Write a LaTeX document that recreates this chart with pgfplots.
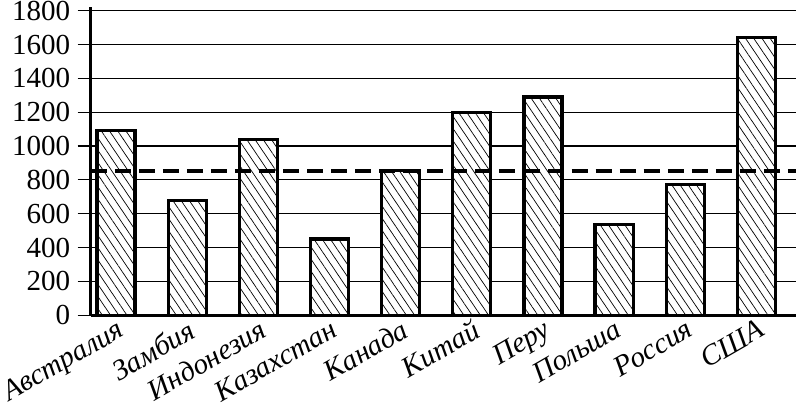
\documentclass[border=0pt]{standalone}
\usepackage{fontspec}
\setmainfont{Liberation Serif}
\usepackage{pgfplots}
\pgfplotsset{compat=1.18}
\usetikzlibrary{patterns.meta}
\begin{document}
\fontsize{14.5}{16}\selectfont
\begin{tikzpicture}
\begin{axis}[
  scale only axis, width=352pt, height=154pt,
  xmin=-0.356, xmax=9.556, ymin=0, ymax=1825,
  axis lines*=left,
  axis line style={line width=1.5pt},
  ytick={0,200,...,1800},
  ymajorgrids, grid style={line width=0.6pt,black},
  tick align=outside, major tick length=6.5pt,
  ytick style={line width=0.6pt, black},
  y tick label style={inner ysep=0.5pt, inner xsep=3.5pt},
  xtick={0,...,9}, xtick style={draw=none},
  xticklabels={Австралия,Замбия,Индонезия,Казахстан,Канада,Китай,Перу,Польша,Россия,США},
  x tick label style={rotate=30, anchor=north east, font=\itshape, inner sep=0pt, yshift=4.5pt, xshift=2.5pt},
  /pgf/number format/assume math mode=true,
  /pgf/number format/1000 sep={},
  clip=false,
]
\addplot[ybar, bar width=19pt, draw=black, line width=1.6pt,
  preaction={fill=white},
  pattern={Lines[angle=-56,distance=3.4pt,line width=0.35pt]}]
  coordinates {(0,1090) (1,680) (2,1040) (3,450) (4,855) (5,1200) (6,1290) (7,535) (8,775) (9,1640)};
\addplot[black, line width=2pt, dash pattern=on 8pt off 4pt]
  coordinates {(-0.356,855) (9.556,855)};
\end{axis}
\end{tikzpicture}
\end{document}
